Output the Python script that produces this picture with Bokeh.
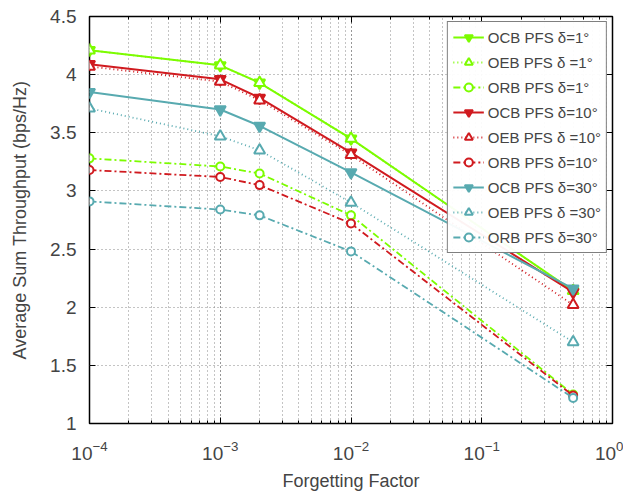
from bokeh.plotting import figure
from bokeh.models import FixedTicker, LogAxis, LinearAxis, Legend, LegendItem
from bokeh.embed import file_html
from bokeh.resources import INLINE

x = [1e-4, 1e-3, 2e-3, 1e-2, 0.5]

ocb_1 = [4.21, 4.08, 3.93, 3.45, 2.14]
oeb_1 = [4.21, 4.08, 3.93, 3.45, 2.14]
orb_1 = [3.28, 3.21, 3.15, 2.79, 1.25]
ocb_10 = [4.09, 3.96, 3.80, 3.33, 2.13]
oeb_10 = [4.07, 3.94, 3.78, 3.31, 2.02]
orb_10 = [3.18, 3.12, 3.05, 2.72, 1.24]
ocb_30 = [3.85, 3.70, 3.56, 3.16, 2.16]
oeb_30 = [3.71, 3.47, 3.35, 2.90, 1.70]
orb_30 = [2.91, 2.84, 2.79, 2.48, 1.22]

labels = ["OCB PFS \u03b4=1\u00b0", "OEB PFS \u03b4 =1\u00b0", "ORB PFS \u03b4=1\u00b0",
          "OCB PFS \u03b4=10\u00b0", "OEB PFS \u03b4 =10\u00b0", "ORB PFS \u03b4=10\u00b0",
          "OCB PFS \u03b4=30\u00b0", "OEB PFS \u03b4 =30\u00b0", "ORB PFS \u03b4=30\u00b0"]
yticks = [1, 1.5, 2, 2.5, 3, 3.5, 4, 4.5]

GREEN = "#7CFC00"
RED = "#D01A1F"
TEAL = "#58AAB0"
FONT = "Liberation Sans"

p = figure(width=623, height=494, x_axis_type="log", x_range=(1e-4, 1), y_range=(1, 4.5),
           output_backend="svg", toolbar_location=None,
           min_border_left=89, min_border_right=11, min_border_top=16, min_border_bottom=71)
p.outline_line_color = "black"
p.outline_line_width = 1.5
p.background_fill_color = "white"

series = [
    (ocb_1, GREEN, "solid", "inverted_triangle", True),
    (oeb_1, GREEN, "1 3", "triangle", False),
    (orb_1, GREEN, "7 3 2 3", "circle", False),
    (ocb_10, RED, "solid", "inverted_triangle", True),
    (oeb_10, RED, "1 3", "triangle", False),
    (orb_10, RED, "7 3 2 3", "circle", False),
    (ocb_30, TEAL, "solid", "inverted_triangle", True),
    (oeb_30, TEAL, "1 3", "triangle", False),
    (orb_30, TEAL, "7 3 2 3", "circle", False),
]

items = []
for (ys, c, dash, mk, filled), lab in zip(series, labels):
    lw = 2 if dash == "solid" else 1.8
    r1 = p.line(x, ys, line_color=c, line_width=lw, line_dash=dash)
    r2 = p.scatter(x, ys, marker=mk, size=11 if mk != "circle" else 8,
                   line_color=c, line_width=2,
                   fill_color=c if filled else "white")
    items.append(LegendItem(label=lab, renderers=[r1, r2]))

legend = Legend(items=items, location="top_right")
legend.label_text_font = FONT
legend.label_text_font_size = "15px"
legend.glyph_width = 31
legend.glyph_height = 20
legend.spacing = 5
legend.padding = 5
legend.margin = 5
legend.label_standoff = 4
legend.border_line_color = "black"
legend.border_line_width = 1.2
p.add_layout(legend, "center")

# grids
p.xgrid.grid_line_color = "#888888"
p.xgrid.grid_line_dash = "1 3"
p.xgrid.minor_grid_line_color = "#888888"
p.xgrid.minor_grid_line_dash = "1 3"
p.ygrid.grid_line_color = "#888888"
p.ygrid.grid_line_dash = "1 3"
p.ygrid.ticker = FixedTicker(ticks=yticks)

ax = p.xaxis[0]
ax.axis_label = "Forgetting Factor"
ax.ticker.desired_num_ticks = 5
ay = p.yaxis[0]
ay.axis_label = "Average Sum Throughput (bps/Hz)"
ay.ticker = FixedTicker(ticks=yticks)
for a in (ax, ay):
    a.axis_label_text_font = FONT
    a.axis_label_text_font_style = "normal"
    a.axis_label_text_font_size = "18px"
    a.major_label_text_font = FONT
    a.major_label_text_font_size = "19px"
    a.major_tick_in = 6
    a.major_tick_out = 0
    a.minor_tick_in = 3
    a.minor_tick_out = 0
    a.axis_line_color = None
ay.minor_tick_line_color = None
ax.major_label_standoff = 17
ax.axis_label_standoff = 8
ay.major_label_standoff = 13
ay.axis_label_standoff = 17

top = LogAxis(major_label_text_font_size="1px", major_label_text_color=None,
              major_label_standoff=0,
              major_tick_in=6, major_tick_out=0,
              minor_tick_in=3, minor_tick_out=0, axis_line_color=None)
right = LinearAxis(ticker=FixedTicker(ticks=yticks),
                   major_label_text_font_size="1px", major_label_text_color=None,
                   major_label_standoff=0,
                   major_tick_in=6, major_tick_out=0,
                   minor_tick_line_color=None, axis_line_color=None)
p.add_layout(top, "above")
p.add_layout(right, "right")

open("out.html", "w").write(file_html(p, INLINE))
